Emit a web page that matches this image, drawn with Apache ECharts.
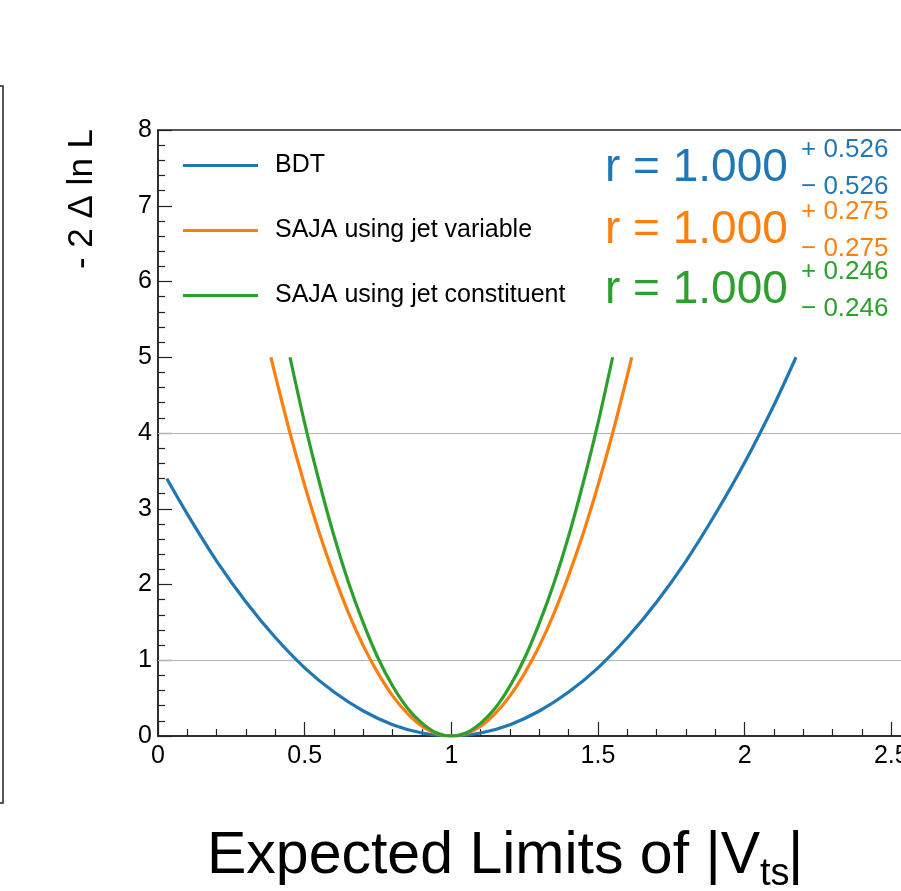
<!DOCTYPE html>
<html>
<head>
<meta charset="utf-8">
<script src="https://cdn.jsdelivr.net/npm/echarts@6/dist/echarts.min.js"></script>
<style>html,body{margin:0;padding:0;background:#fff;}#chart{width:901px;height:891px;}</style>
</head>
<body>
<div id="chart"></div>
<script>
// ---- data ----
const seriesNames = ['BDT', 'SAJA using jet variable', 'SAJA using jet constituent'];
const seriesColors = ['#1f77b4', '#ff7f0e', '#2ca02c'];

const bdtX = [0.03,0.1,0.2,0.3,0.4,0.5,0.6,0.7,0.8,0.9,1.0,1.1,1.2,1.3,1.4,1.5,1.6,1.7,1.8,1.9,2.0,2.1,2.175];
const bdtY = [3.40,2.93,2.31,1.77,1.30,0.90,0.58,0.33,0.15,0.04,0,0.04,0.15,0.33,0.58,0.90,1.30,1.77,2.31,2.93,3.61,4.37,5.00];

const varX = [0.385,0.4,0.45,0.5,0.55,0.6,0.65,0.7,0.75,0.8,0.85,0.9,0.95,1.0,1.05,1.1,1.15,1.2,1.25,1.3,1.35,1.4,1.45,1.5,1.55,1.6,1.615];
const varY = [5.00,4.76,4.00,3.31,2.68,2.12,1.62,1.19,0.83,0.53,0.30,0.13,0.03,0,0.03,0.13,0.30,0.53,0.83,1.19,1.62,2.12,2.68,3.31,4.00,4.76,5.00];

const conX = [0.45,0.5,0.55,0.6,0.65,0.7,0.75,0.8,0.85,0.9,0.95,1.0,1.05,1.1,1.15,1.2,1.25,1.3,1.35,1.4,1.45,1.5,1.55];
const conY = [5.00,4.13,3.35,2.64,2.02,1.49,1.03,0.66,0.37,0.17,0.04,0,0.04,0.17,0.37,0.66,1.03,1.49,2.02,2.64,3.35,4.13,5.00];

const refLevels = [1, 4];
const rCentral = ['1.000', '1.000', '1.000'];
const rUp = ['0.526', '0.275', '0.246'];
const rDown = ['0.526', '0.275', '0.246'];

const xTickLabels = ['0', '0.5', '1', '1.5', '2', '2.5'];

// ---- chart ----
const FONT = 'Liberation Sans, Arial, Helvetica, sans-serif';
const AXC = '#222';
const chart = echarts.init(document.getElementById('chart'));

function pairs(xs, ys) { return xs.map((x, i) => [x, ys[i]]); }
// place text by its baseline (middle of em box ~ 0.31em above baseline)
function txt(x, baseline, text, size, color, extra) {
  return Object.assign({
    type: 'text', x: x, y: baseline - 0.31 * size,
    style: { text: text, font: size + 'px ' + FONT, fill: color, align: 'left', verticalAlign: 'middle' }
  }, extra || {});
}

const graphics = [];
// y axis title
graphics.push({
  type: 'text', x: 82, y: 199, rotation: Math.PI / 2,
  style: { text: '- 2 Δ ln L', font: '35px ' + FONT, fill: '#000', align: 'center', verticalAlign: 'middle' }
});
// x axis title
graphics.push(txt(207, 875, 'Expected Limits of |V', 59, '#000'));
graphics.push(txt(760, 886, 'ts', 38, '#000'));
graphics.push(txt(788, 875, '|', 59, '#000'));
// r = ... annotations
const rBase = [183, 245, 305];
for (let i = 0; i < 3; i++) {
  graphics.push(txt(605, rBase[i], 'r = ' + rCentral[i], 46, seriesColors[i]));
  graphics.push(txt(801, rBase[i] - 25, '+ ' + rUp[i], 26, seriesColors[i]));
  graphics.push(txt(801, rBase[i] + 12, '\u2212 ' + rDown[i], 26, seriesColors[i]));
}

const datasets = [pairs(bdtX, bdtY), pairs(varX, varY), pairs(conX, conY)];

const series = datasets.map((d, i) => ({
  name: seriesNames[i],
  type: 'line',
  xAxisIndex: 0, yAxisIndex: 0,
  data: d,
  smooth: 0.3,
  showSymbol: false,
  symbol: 'none',
  lineStyle: { color: seriesColors[i], width: 3.2 },
  itemStyle: { color: seriesColors[i] },
  z: 5 + i,
  markLine: i === 0 ? {
    silent: true, symbol: 'none', label: { show: false },
    lineStyle: { color: '#b5b5b5', width: 1, type: 'solid' },
    data: refLevels.map(v => ({ yAxis: v }))
  } : undefined
}));

chart.setOption({
  animation: false,
  backgroundColor: '#fff',
  textStyle: { fontFamily: FONT },
  grid: [
    { left: 158, top: 130, width: 880, height: 606, show: true, borderColor: AXC, borderWidth: 1.5, backgroundColor: 'transparent', outerBoundsMode: 'none', containLabel: false },
    { left: -200, width: 203, top: 86, height: 717, show: true, borderColor: AXC, borderWidth: 1.5, outerBoundsMode: 'none', containLabel: false }
  ],
  legend: {
    orient: 'vertical', left: 183, top: 153, padding: 0,
    itemWidth: 75, itemHeight: 3, itemGap: 40, icon: 'rect',
    textStyle: { fontSize: 25, color: '#000', fontFamily: FONT, padding: [0, 0, 0, 12] },
    data: seriesNames
  },
  xAxis: [
    {
      type: 'value', gridIndex: 0, min: 0, max: 3, interval: 0.5,
      axisLine: { show: true, onZero: false, lineStyle: { color: AXC, width: 1.5 } },
      axisTick: { show: true, inside: true, length: 14, lineStyle: { color: AXC, width: 1.2 } },
      minorTick: { show: true, splitNumber: 5, length: 7, lineStyle: { color: AXC, width: 1.2 } },
      splitLine: { show: false },
      axisLabel: {
        fontSize: 25, color: '#000', margin: 8, fontFamily: FONT,
        formatter: v => { const s = String(v); return xTickLabels.indexOf(s) >= 0 ? s : ''; }
      }
    },
    { type: 'value', gridIndex: 1, min: 0, max: 1, show: false }
  ],
  yAxis: [
    {
      type: 'value', gridIndex: 0, min: 0, max: 8, interval: 1,
      axisLine: { show: true, onZero: false, lineStyle: { color: AXC, width: 1.5 } },
      axisTick: { show: true, inside: true, length: 14, lineStyle: { color: AXC, width: 1.2 } },
      minorTick: { show: true, splitNumber: 5, length: 7, lineStyle: { color: AXC, width: 1.2 } },
      splitLine: { show: false },
      axisLabel: { fontSize: 25, color: '#000', margin: 6, fontFamily: FONT }
    },
    {
      type: 'value', gridIndex: 1, min: 0, max: 33, interval: 1, position: 'right',
      axisLine: { show: true, lineStyle: { color: AXC, width: 2 } },
      axisTick: { show: true, inside: true, length: 5, lineStyle: { color: AXC, width: 1 } },
      axisLabel: { show: false }, splitLine: { show: false }
    }
  ],
  series: series,
  graphic: graphics
});
</script>
</body>
</html>
